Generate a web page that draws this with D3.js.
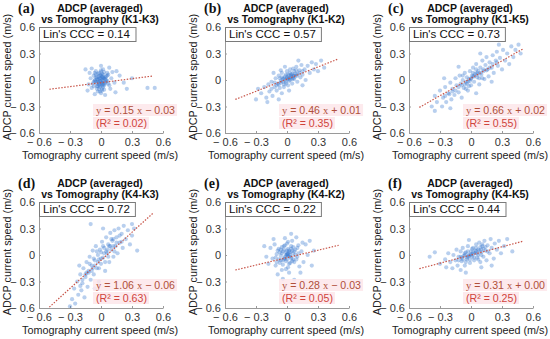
<!DOCTYPE html>
<html><head><meta charset="utf-8">
<script src="https://cdn.jsdelivr.net/npm/d3@7"></script>
<style>body{margin:0;background:#fff}svg{display:block}</style>
</head><body><svg id="c" width="550" height="339"></svg>
<script>
// ---- data ----
const panelLabels = ["(a)","(b)","(c)","(d)","(e)","(f)"];
const pairNames = ["K1-K3","K1-K2","K1-K5","K4-K3","K4-K2","K4-K5"];
const cccValues = ["0.14","0.57","0.73","0.72","0.22","0.44"];
const slopes = [0.15,0.46,0.66,1.06,0.28,0.31];
const intercepts = [-0.03,0.01,0.02,-0.06,-0.03,0.00];
const r2Values = ["0.02","0.35","0.55","0.63","0.05","0.25"];
const tickValues = [-0.6,-0.3,0,0.3,0.6];

const ptsA = [[-0.02,0.01],[0.01,-0.03],[-0.04,0.03],[0.03,0.02],[-0.01,-0.06],[0.02,-0.08],[-0.05,-0.02],[0.05,0.04],[-0.03,0.07],[0.00,0.05],[0.04,-0.04],[-0.06,0.00],[0.06,-0.01],[-0.02,-0.10],[0.01,-0.12],[-0.04,-0.07],[0.03,0.09],[-0.07,0.05],[0.07,0.06],[-0.08,-0.04],[0.08,-0.06],[0.00,-0.15],[-0.03,-0.13],[0.02,0.12],[-0.05,0.10],[0.10,0.02],[-0.10,0.02],[0.09,-0.10],[-0.09,-0.09],[0.11,0.09],[-0.11,0.08],[0.00,0.16],[0.04,-0.17],[-0.06,-0.16],[0.13,-0.03],[-0.12,-0.05],[0.01,0.00],[-0.01,0.02],[0.02,-0.01],[-0.03,-0.02],[0.00,-0.04],[-0.02,0.04],[0.03,-0.06],[-0.04,-0.04],[0.05,0.00],[-0.05,0.06],[0.01,0.07],[-0.01,-0.08],[0.06,0.08],[-0.07,-0.07],[0.15,0.10],[0.18,0.05],[0.22,-0.03],[0.30,0.02],[0.45,-0.09],[0.52,-0.09],[0.25,-0.10],[-0.15,0.12],[0.14,-0.14],[-0.13,-0.12],[0.08,0.14],[-0.09,0.13],[0.02,0.03],[-0.02,-0.05],[0.04,0.01],[-0.06,-0.01],[0.00,0.09],[0.01,-0.10]];
const coreA = [[-0.01,-0.01],[0.02,0.02],[-0.03,0.00],[0.00,-0.02],[0.01,0.04],[-0.02,-0.03],[0.03,-0.03],[-0.04,0.01],[0.02,-0.05],[-0.01,0.05],[0.04,0.03],[-0.03,-0.07],[0.00,0.02],[0.01,-0.06],[-0.05,0.03],[0.05,-0.02],[-0.02,0.08],[0.02,0.06],[-0.04,-0.10],[0.03,-0.11],[-0.06,0.08],[0.06,0.05],[-0.01,-0.13],[0.00,0.11],[-0.07,-0.02],[0.07,-0.04]];
const ptsB = [[-0.25,-0.15],[-0.22,-0.08],[-0.20,-0.20],[-0.18,-0.05],[-0.17,-0.13],[-0.15,-0.02],[-0.14,-0.18],[-0.12,-0.08],[-0.11,0.02],[-0.10,-0.12],[-0.09,-0.04],[-0.08,0.05],[-0.07,-0.09],[-0.06,-0.01],[-0.05,0.08],[-0.05,-0.15],[-0.04,0.01],[-0.03,-0.05],[-0.02,0.04],[-0.01,-0.02],[0.00,0.02],[0.00,0.10],[0.01,-0.06],[0.02,0.05],[0.03,0.00],[0.03,0.12],[0.04,0.03],[0.05,0.07],[0.05,-0.04],[0.06,0.02],[0.07,0.10],[0.08,0.04],[0.09,0.15],[0.10,-0.02],[0.10,0.07],[0.12,0.11],[0.13,0.03],[0.14,0.17],[0.15,0.06],[0.17,0.12],[0.18,0.00],[0.20,0.16],[0.22,0.08],[0.24,0.20],[0.26,0.12],[0.28,0.18],[0.30,0.10],[0.33,0.22],[-0.28,-0.10],[-0.30,-0.22],[-0.19,-0.25],[-0.08,-0.22],[0.02,-0.12],[-0.13,0.08],[0.15,-0.06],[0.36,0.14],[0.11,0.22],[-0.02,0.15],[0.06,0.13],[-0.06,0.11],[0.01,0.01],[-0.03,0.02],[0.04,0.06],[0.02,-0.01],[0.07,0.05],[-0.01,0.06]];
const coreB = [[0.00,0.03],[0.02,0.02],[-0.02,0.00],[0.04,0.04],[-0.04,-0.02],[0.06,0.05],[-0.06,-0.03],[0.08,0.07],[-0.08,-0.05],[0.10,0.05],[-0.10,-0.06],[0.01,0.06],[-0.01,-0.04],[0.05,0.01],[-0.05,0.03],[0.12,0.08],[-0.12,-0.03],[0.03,0.08],[-0.03,-0.08],[0.07,0.01],[0.15,0.10],[-0.15,-0.10],[0.09,0.11],[-0.07,0.02]];
const ptsC = [[-0.38,-0.30],[-0.35,-0.18],[-0.33,-0.25],[-0.30,-0.12],[-0.28,-0.30],[-0.27,-0.20],[-0.25,-0.08],[-0.24,-0.25],[-0.22,-0.15],[-0.20,-0.03],[-0.19,-0.22],[-0.18,-0.10],[-0.16,-0.17],[-0.15,0.02],[-0.14,-0.06],[-0.12,-0.14],[-0.11,0.05],[-0.10,-0.04],[-0.09,-0.20],[-0.08,0.00],[-0.07,-0.09],[-0.06,0.08],[-0.05,-0.02],[-0.04,0.03],[-0.03,-0.12],[-0.02,0.01],[-0.01,0.10],[0.00,0.02],[0.00,-0.06],[0.01,0.05],[0.02,0.14],[0.03,-0.02],[0.04,0.07],[0.05,0.18],[0.06,0.03],[0.07,0.10],[0.08,-0.05],[0.09,0.14],[0.10,0.06],[0.11,0.22],[0.12,0.10],[0.13,0.01],[0.14,0.17],[0.15,0.26],[0.16,0.12],[0.17,0.04],[0.18,0.20],[0.20,0.14],[0.21,0.28],[0.22,0.08],[0.24,0.22],[0.25,0.32],[0.26,0.16],[0.28,0.25],[0.30,0.12],[0.31,0.34],[0.33,0.22],[0.35,0.30],[0.37,0.18],[0.39,0.38],[0.41,0.26],[0.43,0.34],[0.46,0.40],[0.48,0.30],[-0.26,0.02],[0.05,-0.15],[-0.35,-0.35],[0.20,-0.02],[-0.12,0.15],[0.27,0.40],[0.09,0.30],[-0.20,-0.32],[-0.04,-0.04],[0.02,0.04],[0.06,0.08],[-0.01,-0.01]];
const coreC = [[0.00,0.01],[0.03,0.04],[-0.03,-0.02],[0.06,0.06],[-0.06,-0.05],[0.09,0.08],[-0.09,-0.06],[0.12,0.12],[-0.12,-0.08],[0.15,0.11],[-0.15,-0.12],[0.18,0.14],[-0.18,-0.13],[0.02,0.08],[-0.02,-0.07],[0.08,0.02],[-0.08,0.05],[0.21,0.18],[-0.21,-0.16],[0.05,0.12],[0.11,0.02],[-0.05,-0.10],[0.25,0.20],[-0.25,-0.18]];
const ptsD = [[-0.28,-0.50],[-0.26,-0.38],[-0.25,-0.55],[-0.23,-0.30],[-0.22,-0.45],[-0.20,-0.22],[-0.19,-0.40],[-0.18,-0.32],[-0.17,-0.15],[-0.16,-0.48],[-0.15,-0.25],[-0.14,-0.08],[-0.13,-0.36],[-0.12,-0.18],[-0.11,-0.02],[-0.10,-0.28],[-0.09,-0.12],[-0.08,0.05],[-0.07,-0.22],[-0.06,-0.06],[-0.05,0.10],[-0.04,-0.15],[-0.03,0.00],[-0.02,-0.30],[-0.01,0.06],[0.00,-0.10],[0.01,0.15],[0.02,-0.03],[0.03,0.08],[0.04,-0.18],[0.05,0.20],[0.06,0.02],[0.07,0.12],[0.08,-0.08],[0.09,0.25],[0.10,0.06],[0.11,0.16],[0.12,-0.02],[0.13,0.28],[0.14,0.10],[0.15,0.20],[0.16,0.02],[0.17,0.30],[0.18,0.14],[0.20,0.24],[0.21,0.08],[0.22,0.33],[0.24,0.18],[0.26,0.28],[0.28,0.12],[0.30,0.22],[0.32,0.30],[-0.30,-0.58],[-0.21,-0.12],[0.02,0.30],[-0.10,0.35],[0.30,0.35],[0.35,0.05],[-0.06,-0.38],[0.00,0.03],[-0.02,-0.05],[0.05,0.04],[0.08,0.10],[-0.08,-0.15],[0.12,0.18],[-0.14,-0.20]];
const coreD = [[0.00,-0.04],[0.03,0.02],[-0.03,-0.08],[0.06,0.06],[-0.06,-0.12],[0.09,0.10],[-0.09,-0.18],[0.12,0.10],[-0.12,-0.20],[0.15,0.14],[-0.15,-0.22],[0.02,0.10],[-0.02,-0.15],[0.07,-0.02],[-0.07,-0.04],[0.18,0.22],[-0.18,-0.28],[0.10,0.18],[-0.04,0.04],[0.04,-0.08],[0.20,0.15],[-0.20,-0.35],[0.13,0.04],[-0.11,-0.10]];
const ptsE = [[0.00,0.00],[0.02,0.03],[-0.02,-0.02],[0.04,-0.04],[-0.04,0.04],[0.01,0.07],[-0.01,-0.07],[0.06,0.02],[-0.06,-0.01],[0.03,-0.09],[-0.03,0.10],[0.08,0.06],[-0.08,0.07],[0.07,-0.08],[-0.07,-0.09],[0.00,0.13],[0.01,-0.14],[0.10,-0.02],[-0.10,0.01],[0.11,0.11],[-0.11,-0.12],[0.12,-0.13],[-0.12,0.12],[0.05,0.16],[-0.05,-0.17],[0.14,0.04],[-0.14,-0.04],[0.02,-0.20],[-0.02,0.19],[0.16,-0.08],[-0.16,0.08],[0.09,0.20],[-0.09,-0.22],[0.18,0.12],[-0.18,-0.10],[0.20,0.00],[-0.20,-0.02],[0.04,0.24],[-0.04,-0.27],[0.22,0.16],[0.13,-0.20],[-0.13,0.18],[0.26,0.05],[0.01,0.01],[-0.01,0.03],[0.03,0.00],[-0.03,-0.04],[0.02,-0.02],[0.05,0.05],[-0.05,0.02],[0.06,-0.05],[-0.06,0.06],[0.00,0.05],[0.00,-0.05],[0.08,0.00],[-0.08,-0.05],[0.10,0.08],[-0.10,-0.08],[0.04,0.10],[-0.04,-0.11],[0.15,0.14],[-0.22,0.10],[0.24,-0.12],[0.07,-0.28]];
const coreE = [[0.00,0.01],[0.01,-0.01],[-0.01,0.00],[0.02,0.05],[-0.02,-0.04],[0.03,0.03],[-0.03,0.06],[0.04,-0.02],[-0.04,-0.06],[0.05,-0.07],[-0.05,0.09],[0.06,0.09],[-0.06,-0.06],[0.02,-0.10],[-0.02,0.11],[0.07,0.04],[-0.07,0.03],[0.09,-0.05],[-0.09,0.05],[0.01,0.15],[-0.01,-0.16],[0.11,0.02],[-0.11,-0.03],[0.04,0.07]];
const ptsF = [[-0.30,-0.10],[-0.25,-0.05],[-0.24,-0.14],[-0.22,0.02],[-0.20,-0.08],[-0.18,-0.15],[-0.17,0.00],[-0.15,-0.06],[-0.14,0.06],[-0.13,-0.12],[-0.12,-0.02],[-0.10,0.04],[-0.10,-0.17],[-0.09,-0.07],[-0.08,0.08],[-0.07,-0.01],[-0.06,-0.12],[-0.05,0.03],[-0.04,-0.05],[-0.03,0.10],[-0.02,0.00],[-0.01,-0.09],[0.00,0.04],[0.01,-0.02],[0.02,0.08],[0.03,-0.06],[0.04,0.02],[0.05,0.12],[0.06,-0.03],[0.07,0.06],[0.08,0.14],[0.09,-0.08],[0.10,0.03],[0.11,0.10],[0.12,-0.02],[0.13,0.16],[0.14,0.05],[0.15,-0.06],[0.16,0.11],[0.18,0.02],[0.19,0.18],[0.20,0.08],[0.22,-0.04],[0.23,0.13],[0.25,0.06],[0.27,0.16],[0.29,0.02],[0.32,0.10],[0.35,0.18],[-0.35,0.03],[-0.40,-0.02],[-0.05,-0.20],[0.10,-0.14],[-0.02,0.17],[0.20,-0.12],[0.40,0.04],[0.00,0.00],[0.02,0.01],[-0.03,-0.02],[0.05,0.04],[0.07,0.00],[-0.06,0.00],[0.10,0.06],[-0.09,-0.03]];
const coreF = [[0.00,0.01],[0.02,0.03],[-0.02,-0.01],[0.04,0.05],[-0.04,-0.03],[0.06,0.02],[-0.06,0.02],[0.08,0.05],[-0.08,-0.05],[0.10,0.00],[-0.10,-0.02],[0.12,0.07],[-0.12,-0.06],[0.03,-0.03],[-0.03,0.04],[0.05,0.08],[0.09,0.09],[-0.05,-0.08],[0.14,0.09],[0.16,0.04],[0.01,0.07],[0.07,-0.05],[0.11,0.12],[-0.01,-0.05]];
const allPoints = [ptsA.concat(coreA), ptsB.concat(coreB), ptsC.concat(coreC), ptsD.concat(coreD), ptsE.concat(coreE), ptsF.concat(coreF)];

// ---- layout ----
const colX = [39, 225, 409];
const rowY = [27, 202];
const W = 124, H = 106;
const sans = "'Liberation Sans', Arial, sans-serif";
const serif = "'Liberation Serif', 'Times New Roman', serif";
const svg = d3.select("#c");
const fmt = v => v === 0 ? "0" : (v < 0 ? "\u2212 " + Math.abs(v).toFixed(1) : v.toFixed(1));

allPoints.forEach((pts, i) => {
  const col = i % 3, row = Math.floor(i / 3);
  const x0 = colX[col], y0 = rowY[row];
  const g = svg.append("g").attr("transform", `translate(${x0},${y0})`);
  const x = d3.scaleLinear().domain([-0.6, 0.6]).range([0, W]);
  const y = d3.scaleLinear().domain([-0.6, 0.6]).range([H, 0]);

  const clipId = "clip" + i;
  g.append("clipPath").attr("id", clipId).append("rect").attr("width", W).attr("height", H);

  // axes
  const ax = g.append("g").attr("transform", `translate(0,${H})`)
    .call(d3.axisBottom(x).tickValues(tickValues).tickFormat(fmt).tickSizeInner(-2).tickSizeOuter(0).tickPadding(5));
  const ay = g.append("g")
    .call(d3.axisLeft(y).tickValues(tickValues).tickFormat(fmt).tickSizeInner(-2).tickSizeOuter(0).tickPadding(4));
  [ax, ay].forEach(a => {
    a.select(".domain").attr("stroke", "#9a9a9a");
    a.selectAll(".tick line").attr("stroke", "#9a9a9a");
    a.selectAll("text").attr("font-family", sans).attr("font-size", 11).attr("fill", "#333");
  });

  // points
  g.append("g").attr("clip-path", `url(#${clipId})`).selectAll("circle").data(pts).join("circle")
    .attr("cx", d => x(d[0])).attr("cy", d => y(d[1])).attr("r", 2.1)
    .attr("fill", "#2f72cc").attr("fill-opacity", 0.34);

  // regression line
  const lx = [-0.5, 0.5];
  g.append("line").attr("clip-path", `url(#${clipId})`)
    .attr("x1", x(lx[0])).attr("y1", y(slopes[i] * lx[0] + intercepts[i]))
    .attr("x2", x(lx[1])).attr("y2", y(slopes[i] * lx[1] + intercepts[i]))
    .attr("stroke", "#c8564a").attr("stroke-width", 1.2).attr("stroke-dasharray", "1.5,1.5");

  // CCC box
  const cccG = g.append("g");
  const ct = cccG.append("text").attr("x", 4).attr("y", 11).attr("font-family", sans).attr("font-size", 11.5)
    .attr("fill", "#111").text(`Lin's CCC = ${cccValues[i]}`);
  const bb = ct.node().getBBox();
  cccG.insert("rect", "text").attr("x", 0.5).attr("y", 0.5).attr("width", bb.width + 9).attr("height", 14)
    .attr("fill", "#fff").attr("stroke", "#7a7a7a").attr("stroke-width", 1);

  // equation
  const eqX = 57, eqY = H - 19, r2Y = H - 6;
  const eqG = g.append("g");
  const b = intercepts[i];
  const eq = eqG.append("text").attr("x", eqX).attr("y", eqY).attr("font-family", sans).attr("font-size", 10.6).attr("fill", "#b0503a");
  eq.append("tspan").attr("font-family", serif).text("y");
  eq.append("tspan").text(` = ${slopes[i].toFixed(2)} `);
  eq.append("tspan").attr("font-family", serif).text("x");
  eq.append("tspan").text(b < 0 ? ` \u2212 ${Math.abs(b).toFixed(2)}` : ` + ${b.toFixed(2)}`);
  const r2 = eqG.append("text").attr("x", eqX).attr("y", r2Y).attr("font-family", sans).attr("font-size", 10.6).attr("fill", "#d0443c")
    .text(`(R\u00B2 = ${r2Values[i]})`);
  [eq, r2].forEach(t => {
    const bx = t.node().getBBox();
    eqG.insert("rect", "text").attr("x", bx.x - 3).attr("y", bx.y).attr("width", bx.width + 5).attr("height", bx.height)
      .attr("fill", "#fde6ea").attr("fill-opacity", 0.85);
  });

  // titles
  const cx = W / 2 - 1;
  g.append("text").attr("x", cx).attr("y", -15).attr("text-anchor", "middle").attr("font-family", sans)
    .attr("font-weight", "bold").attr("font-size", 10.5).attr("fill", "#111").text("ADCP (averaged)");
  g.append("text").attr("x", cx).attr("y", -4).attr("text-anchor", "middle").attr("font-family", sans)
    .attr("font-weight", "bold").attr("font-size", 10.5).attr("fill", "#111").text(`vs Tomography (${pairNames[i]})`);
  g.append("text").attr("x", -21).attr("y", -14).attr("font-family", serif).attr("font-weight", "bold")
    .attr("font-size", 14).attr("fill", "#111").text(panelLabels[i]);

  // axis labels
  g.append("text").attr("x", W / 2 - 1).attr("y", H + 26).attr("text-anchor", "middle").attr("font-family", sans)
    .attr("font-size", 10.8).attr("fill", "#222").text("Tomography current speed (m/s)");
  g.append("text").attr("transform", `translate(-28,${H / 2 - 3}) rotate(-90)`).attr("text-anchor", "middle")
    .attr("font-family", sans).attr("font-size", 10.8).attr("fill", "#222").text("ADCP current speed (m/s)");
});
</script></body></html>
